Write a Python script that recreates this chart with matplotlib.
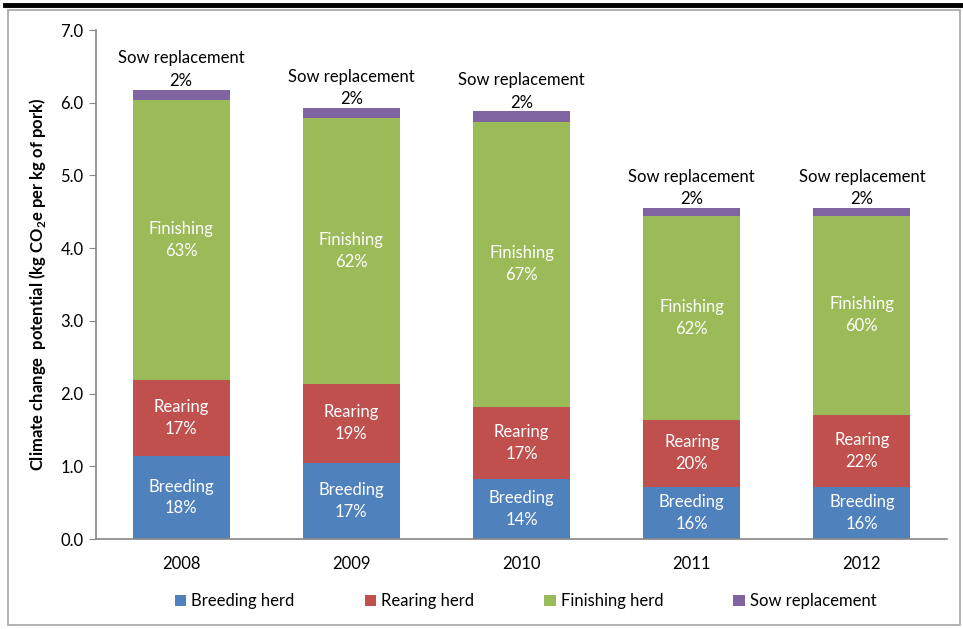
import numpy as np
import matplotlib.pyplot as plt
from matplotlib.patches import Rectangle
from matplotlib.lines import Line2D

plt.rcParams['font.family'] = ['Lato', 'DejaVu Sans']

years = ['2008', '2009', '2010', '2011', '2012']
breeding = [1.14, 1.05, 0.83, 0.72, 0.72]
rearing = [1.05, 1.08, 0.99, 0.92, 0.99]
finishing = [3.85, 3.66, 3.92, 2.80, 2.73]
sow = [0.14, 0.14, 0.14, 0.11, 0.11]

breeding_pct = ['18%', '17%', '14%', '16%', '16%']
rearing_pct = ['17%', '19%', '17%', '20%', '22%']
finishing_pct = ['63%', '62%', '67%', '62%', '60%']
sow_pct = ['2%', '2%', '2%', '2%', '2%']

colors = ['#4f81bd', '#c0504d', '#9bbb59', '#8064a2']
names = ['Breeding herd', 'Rearing herd', 'Finishing herd', 'Sow replacement']

fig = plt.figure(figsize=(9.63, 6.29), dpi=100)
# outer frame and heavy top rule
fig.add_artist(Rectangle((8/963, 1-625/629), 952/963, 615/629, transform=fig.transFigure,
                         fill=False, edgecolor='#a6a6a6', linewidth=1.2))
fig.add_artist(Line2D([5/963, 1], [1-5/629, 1-5/629], transform=fig.transFigure,
                      color='black', linewidth=3.5))

ax = fig.add_axes([96/963, 1-539/629, 851/963, 509/629])
x = np.arange(len(years))
w = 0.57
b1 = np.array(breeding)
b2 = b1 + np.array(rearing)
b3 = b2 + np.array(finishing)
ax.bar(x, breeding, w, color=colors[0], label=names[0])
ax.bar(x, rearing, w, bottom=b1, color=colors[1], label=names[1])
ax.bar(x, finishing, w, bottom=b2, color=colors[2], label=names[2])
ax.bar(x, sow, w, bottom=b3, color=colors[3], label=names[3])

fs = 12
for i in range(len(years)):
    ax.text(x[i], b1[i]/2, 'Breeding\n' + breeding_pct[i], ha='center', va='center',
            color='white', fontsize=fs, linespacing=1.45)
    ax.text(x[i], b1[i] + rearing[i]/2, 'Rearing\n' + rearing_pct[i], ha='center', va='center',
            color='white', fontsize=fs, linespacing=1.45)
    ax.text(x[i], b2[i] + finishing[i]/2, 'Finishing\n' + finishing_pct[i], ha='center', va='center',
            color='white', fontsize=fs, linespacing=1.45)
    ax.text(x[i], b3[i] + sow[i] + 0.01, 'Sow replacement\n' + sow_pct[i], ha='center', va='bottom',
            color='black', fontsize=fs, linespacing=1.5)

ax.set_xlim(-0.5, len(years) - 0.5)
ax.set_ylim(0, 7)
ax.set_yticks(np.arange(0, 7.5, 1.0))
ax.set_yticklabels(['%.1f' % v for v in np.arange(0, 7.5, 1.0)], fontsize=fs)
ax.set_xticks(x)
ax.set_xticklabels(years, fontsize=fs)
ax.tick_params(axis='x', length=0, pad=12)
ax.tick_params(axis='y', length=5, color='#868686', pad=4, direction='out')
for s in ['top', 'right']:
    ax.spines[s].set_visible(False)
for s in ['left', 'bottom']:
    ax.spines[s].set_color('#868686')
    ax.spines[s].set_linewidth(1.2)
ax.set_ylabel('Climate change  potential (kg CO$_\\mathregular{2}$e per kg of pork)',
              fontsize=fs, fontweight='bold', labelpad=9)

ax.legend(loc='upper center', bbox_to_anchor=(0.505, -0.077), ncol=4, frameon=False,
          fontsize=fs, handlelength=0.7, handleheight=0.7, handletextpad=0.3,
          columnspacing=4.2)

fig.savefig('out.png', dpi=100)
